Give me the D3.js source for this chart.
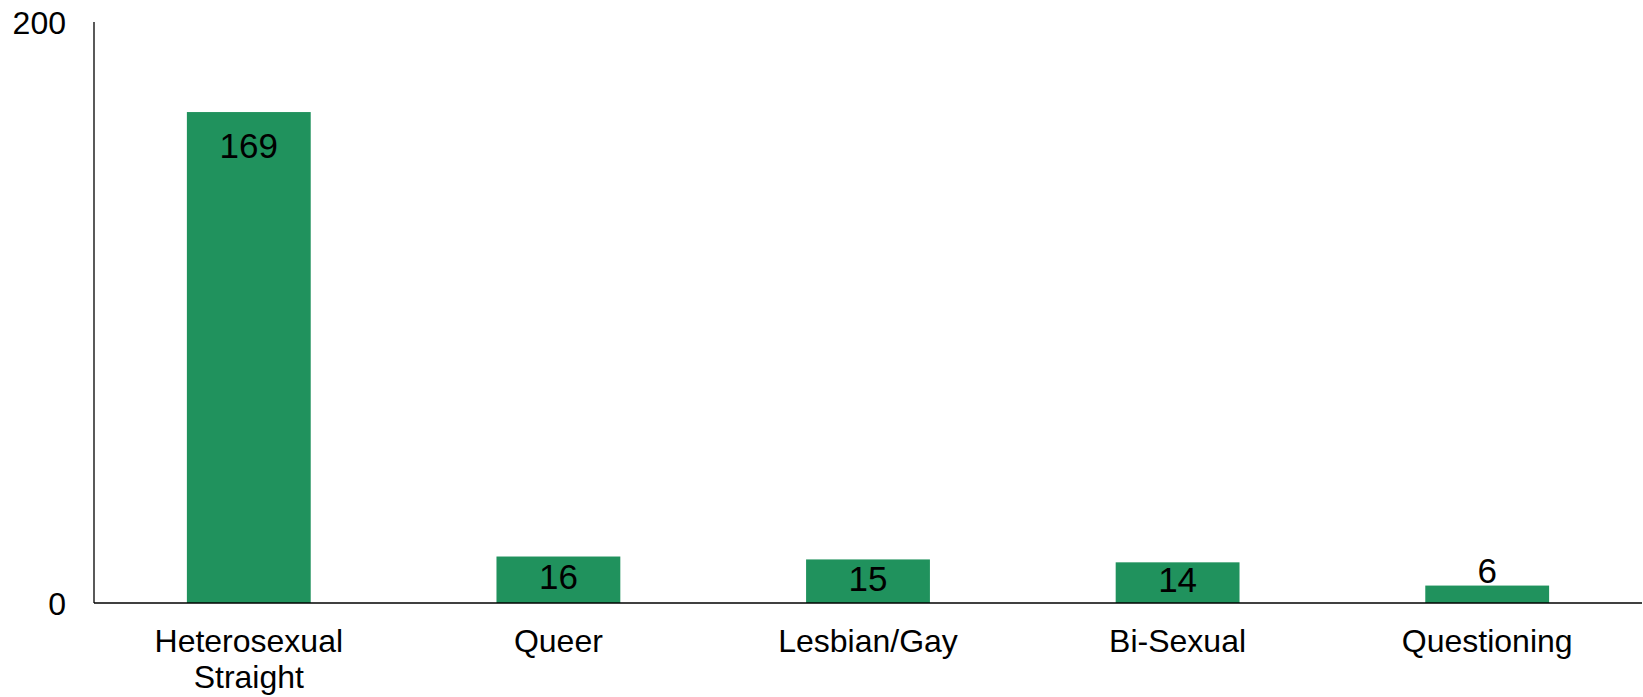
<!DOCTYPE html>
<html>
<head>
<meta charset="utf-8">
<script src="https://cdn.jsdelivr.net/npm/d3@7"></script>
<style>
  body { margin: 0; background: #fff; }
  text { font-family: "Liberation Sans", Arial, sans-serif; fill: #000; }
</style>
</head>
<body>
<div id="chart"></div>
<script>
var categories = [["Heterosexual", "Straight"], ["Queer"], ["Lesbian/Gay"], ["Bi-Sexual"], ["Questioning"]];
var counts = [169, 16, 15, 14, 6];
var yTicks = [0, 200];

var width = 1643,
  height = 697;

var margin = { top: 22, right: 1, bottom: 94, left: 94 };

var svg = d3.select("#chart")
  .append("svg")
  .attr("width", width)
  .attr("height", height);

var x = d3.scaleBand()
  .domain(d3.range(categories.length))
  .range([margin.left, width - margin.right])
  .paddingInner(0.6)
  .paddingOuter(0.3);

var y = d3.scaleLinear()
  .domain([0, 200])
  .range([height - margin.bottom, margin.top]);

// bars
svg.selectAll("rect.bar")
  .data(counts)
  .enter().append("rect")
  .attr("class", "bar")
  .attr("x", function (d, i) { return x(i); })
  .attr("y", function (d) { return y(d); })
  .attr("width", x.bandwidth())
  .attr("height", function (d) { return y(0) - y(d); })
  .style("fill", "#20925D");

// axes lines
svg.append("line")
  .attr("x1", margin.left).attr("x2", margin.left)
  .attr("y1", y(200)).attr("y2", y(0))
  .style("stroke", "#000").style("stroke-width", 1.3);

svg.append("line")
  .attr("x1", margin.left).attr("x2", width - margin.right)
  .attr("y1", y(0)).attr("y2", y(0))
  .style("stroke", "#000").style("stroke-width", 1.3);

// y tick labels
svg.selectAll("text.ytick")
  .data(yTicks)
  .enter().append("text")
  .attr("class", "ytick")
  .attr("x", 66)
  .attr("y", function (d) { return y(d); })
  .attr("dy", "0.36em")
  .attr("text-anchor", "end")
  .style("font-size", "32px")
  .text(function (d) { return d; });

// value labels (inside end, pushed above when the bar is too short)
svg.selectAll("text.value")
  .data(counts)
  .enter().append("text")
  .attr("class", "value")
  .attr("x", function (d, i) { return x(i) + x.bandwidth() / 2; })
  .attr("y", function (d) {
    var top = y(d), bottom = y(0);
    if (bottom - top < 30) return top - 3;
    return Math.min(top + 45.5, (top + bottom) / 2 + 9.5);
  })
  .attr("text-anchor", "middle")
  .style("font-size", "35px")
  .text(function (d) { return d; });

// category labels
var catLabels = svg.selectAll("text.cat")
  .data(categories)
  .enter().append("text")
  .attr("class", "cat")
  .attr("x", function (d, i) { return x(i) + x.bandwidth() / 2; })
  .attr("y", 652)
  .attr("text-anchor", "middle")
  .style("font-size", "32px");

catLabels.selectAll("tspan")
  .data(function (d) { return d; })
  .enter().append("tspan")
  .attr("x", function () { return d3.select(this.parentNode).attr("x"); })
  .attr("dy", function (d, i) { return i === 0 ? 0 : 36; })
  .text(function (d) { return d; });
</script>
</body>
</html>
